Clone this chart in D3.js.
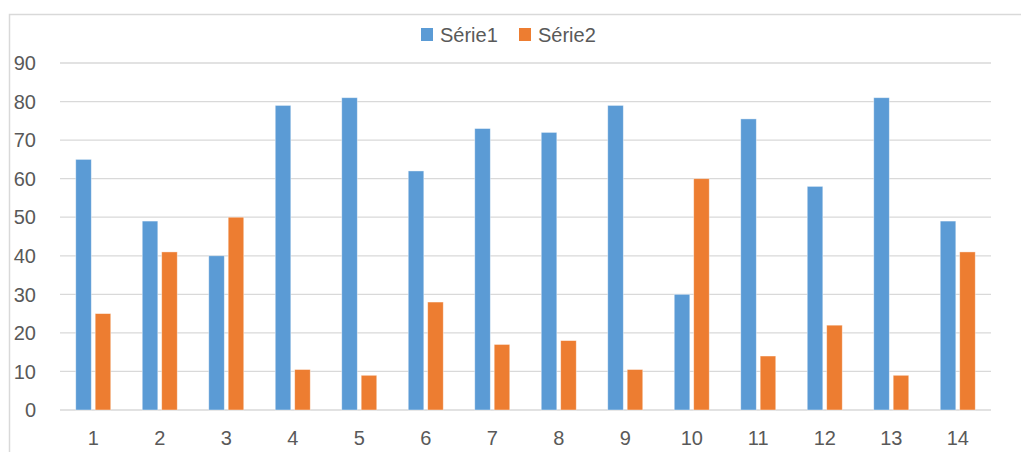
<!DOCTYPE html>
<meta charset="utf-8">
<script src="https://d3js.org/d3.v7.min.js"></script>
<style>
  body { margin: 0; background: #fff; }
  text { font-family: "Liberation Sans", Arial, sans-serif; fill: #595959; }
</style>
<div id="chart"></div>
<script>
// data
const categories = ["1", "2", "3", "4", "5", "6", "7", "8", "9", "10", "11", "12", "13", "14"];
const serie1 = [65, 49, 40, 79, 81, 62, 73, 72, 79, 30, 75.5, 58, 81, 49];
const serie2 = [25, 41, 50, 10.5, 9, 28, 17, 18, 10.5, 60, 14, 22, 9, 41];
const seriesNames = ["Série1", "Série2"];
const yTicks = [0, 10, 20, 30, 40, 50, 60, 70, 80, 90];
const COLORS = ["#5B9BD5", "#ED7D31"];

const W = 1021, H = 452;
const margin = { top: 63, right: 30, bottom: 42, left: 60 };
const width = W - margin.left - margin.right,
      height = H - margin.top - margin.bottom;

const svg = d3.select("#chart").append("svg")
    .attr("width", W)
    .attr("height", H);

// chart frame (only top and left edges show)
svg.append("path")
    .attr("d", "M9.5," + H + "V14.5H" + W)
    .attr("fill", "none")
    .attr("stroke", "#d9d9d9")
    .attr("stroke-width", 1.5);

const g = svg.append("g")
    .attr("transform", "translate(" + margin.left + "," + margin.top + ")");

const x = d3.scaleBand().domain(categories).range([0, width]);
const y = d3.scaleLinear().domain([0, 90]).range([height, 0]);

const groupW = 35;
const xSub = d3.scaleBand().domain(seriesNames).range([0, groupW]).paddingInner(0.2);
const color = d3.scaleOrdinal().domain(seriesNames).range(COLORS);

// gridlines
g.append("g")
    .selectAll("line")
    .data(yTicks)
    .join("line")
    .attr("x1", 0)
    .attr("x2", width)
    .attr("y1", d => y(d))
    .attr("y2", d => y(d))
    .attr("stroke", "#d9d9d9")
    .attr("stroke-width", 1.3);

// y labels
g.append("g")
    .selectAll("text")
    .data(yTicks)
    .join("text")
    .attr("x", -24)
    .attr("y", d => y(d))
    .attr("dy", "0.36em")
    .attr("text-anchor", "end")
    .style("font-size", "20px")
    .text(d => d);

// x labels
g.append("g")
    .selectAll("text")
    .data(categories)
    .join("text")
    .attr("x", d => x(d) + x.bandwidth() / 2)
    .attr("y", height + 35)
    .attr("text-anchor", "middle")
    .style("font-size", "20px")
    .text(d => d);

// bars
const rows = categories.map((c, i) => ({ cat: c, values: [
    { key: seriesNames[0], value: serie1[i] },
    { key: seriesNames[1], value: serie2[i] }
]}));

g.append("g")
    .selectAll("g")
    .data(rows)
    .join("g")
    .attr("transform", d => "translate(" + (x(d.cat) + (x.bandwidth() - groupW) / 2) + ",0)")
    .selectAll("rect")
    .data(d => d.values)
    .join("rect")
    .attr("x", d => xSub(d.key))
    .attr("y", d => y(d.value))
    .attr("width", xSub.bandwidth())
    .attr("height", d => height - y(d.value))
    .attr("fill", d => color(d.key))
    .attr("stroke", "#ffffff")
    .attr("stroke-opacity", 0.5)
    .attr("stroke-width", 0.8);

// legend
const legend = svg.append("g").attr("transform", "translate(421,28)");
const legX = [0, 98];
seriesNames.forEach((name, i) => {
    const lg = legend.append("g").attr("transform", "translate(" + legX[i] + ",0)");
    lg.append("rect")
        .attr("width", 12)
        .attr("height", 13)
        .attr("fill", COLORS[i]);
    lg.append("text")
        .attr("x", 19)
        .attr("y", 7)
        .attr("dy", "0.36em")
        .style("font-size", "20px")
        .text(name);
});
</script>
